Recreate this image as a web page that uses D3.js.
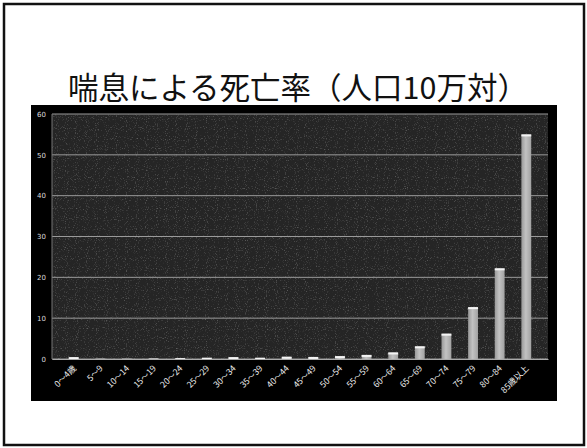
<!DOCTYPE html>
<html>
<head>
<meta charset="utf-8">
<script src="https://cdn.jsdelivr.net/npm/d3@7"></script>
<style>
  body { margin: 0; background: #fff; }
  svg { display: block; }
</style>
</head>
<body>
<svg id="chart" width="587" height="448"></svg>
<script>
// age groups and asthma death rate per 100,000
var ageGroups = ["0～4歳", "5～9", "10～14", "15～19", "20～24", "25～29", "30～34", "35～39",
  "40～44", "45～49", "50～54", "55～59", "60～64", "65～69", "70～74", "75～79", "80～84", "85歳以上"];
var deathRates = [0.45, 0.05, 0.05, 0.1, 0.2, 0.3, 0.45, 0.3, 0.55, 0.5, 0.7, 1.0, 1.6, 3.1, 6.2, 12.7, 22.2, 55.0];
var yTicks = [0, 10, 20, 30, 40, 50, 60];
var title = "喘息による死亡率（人口10万対）";

var svg = d3.select("#chart");
var margin = { top: 114, right: 39, bottom: 89, left: 52 };
var width = 587 - margin.left - margin.right,
  height = 448 - margin.top - margin.bottom;

var defs = svg.append("defs");
var grad = defs.append("linearGradient").attr("id", "barGrad").attr("x1", "0").attr("x2", "1");
grad.append("stop").attr("offset", "0%").attr("stop-color", "#999");
grad.append("stop").attr("offset", "45%").attr("stop-color", "#c2c2c2");
grad.append("stop").attr("offset", "100%").attr("stop-color", "#a2a2a2");

var speck = defs.append("filter").attr("id", "speck").attr("x", 0).attr("y", 0).attr("width", "100%").attr("height", "100%");
speck.append("feTurbulence").attr("type", "fractalNoise").attr("baseFrequency", 0.9).attr("numOctaves", 1).attr("seed", 3);
speck.append("feColorMatrix").attr("type", "matrix")
  .attr("values", "0 0 0 0 1  0 0 0 0 1  0 0 0 0 1  2.2 0 0 0 -1.25");

// outer slide frame
svg.append("rect").attr("x", 4).attr("y", 4).attr("width", 580).attr("height", 441)
  .attr("fill", "none").attr("stroke", "#111").attr("stroke-width", 2.5);

svg.append("text")
  .attr("x", 68).attr("y", 99)
  .attr("text-anchor", "start")
  .attr("font-family", "'Noto Sans CJK JP', sans-serif")
  .attr("font-size", 30.5)
  .attr("fill", "#111")
  .text(title);

// black chart background
svg.append("rect").attr("x", 31).attr("y", 105).attr("width", 526).attr("height", 296).attr("fill", "#000");

var g = svg.append("g").attr("transform", "translate(" + margin.left + "," + margin.top + ")");

g.append("rect").attr("width", width).attr("height", height).attr("fill", "#252525");
g.append("rect").attr("width", width).attr("height", height).attr("filter", "url(#speck)").attr("opacity", 0.45);

var x = d3.scaleBand().domain(ageGroups).range([0, width]).padding(0.63);
var y = d3.scaleLinear().domain([0, 60]).range([height, 0]);

// grid lines
g.append("g").selectAll("line").data(yTicks).enter().append("line")
  .attr("x1", 0).attr("x2", width)
  .attr("y1", function(d) { return y(d); }).attr("y2", function(d) { return y(d); })
  .attr("stroke", "#9a9a9a").attr("stroke-width", 1);

g.append("line").attr("x1", 0).attr("x2", 0).attr("y1", 0).attr("y2", height)
  .attr("stroke", "#777").attr("stroke-width", 1);

var yAxis = g.append("g").attr("transform", "translate(-6,0)")
  .call(d3.axisLeft(y).tickValues(yTicks).tickSize(0).tickPadding(0));
yAxis.select(".domain").remove();
yAxis.selectAll("text").attr("fill", "#ddd").attr("font-size", 7)
  .attr("font-family", "'DejaVu Sans', sans-serif");

var bars = g.selectAll("g.bar").data(deathRates).enter().append("g").attr("class", "bar");
bars.append("rect")
  .attr("x", function(d, i) { return x(ageGroups[i]); })
  .attr("y", function(d) { return y(d); })
  .attr("width", x.bandwidth())
  .attr("height", function(d) { return height - y(d); })
  .attr("fill", "url(#barGrad)");
bars.append("rect")
  .attr("x", function(d, i) { return x(ageGroups[i]); })
  .attr("y", function(d) { return y(d); })
  .attr("width", x.bandwidth())
  .attr("height", function(d) { return Math.min(2, height - y(d)); })
  .attr("fill", "#f4f4f4");

var xAxis = g.append("g").attr("transform", "translate(0," + height + ")")
  .call(d3.axisBottom(x).tickSize(0).tickPadding(0));
xAxis.select(".domain").attr("stroke", "#aaa");
xAxis.selectAll("text")
  .attr("fill", "#eee")
  .attr("font-size", 8.5)
  .attr("font-family", "'Noto Sans CJK JP', sans-serif")
  .attr("text-anchor", "end")
  .attr("dy", 0)
  .attr("transform", "translate(3,10) rotate(-45)");
</script>
</body>
</html>
